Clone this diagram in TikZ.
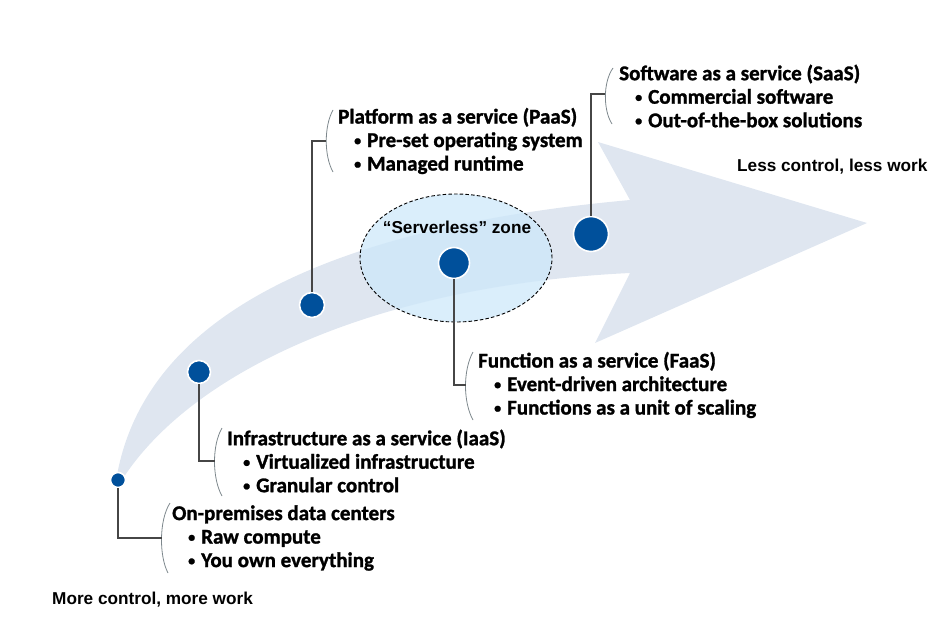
\documentclass[tikz,border=0pt]{standalone}
\usepackage{fontspec}
\usetikzlibrary{shapes.geometric}
\setmainfont{Carlito}[BoldFeatures={FakeBold=1.3}]
\newfontfamily\arialfont{Liberation Sans}
\definecolor{bandc}{RGB}{223,230,240}
\definecolor{zonec}{RGB}{205,232,250}
\definecolor{dotc}{RGB}{0,80,155}
\definecolor{connc}{RGB}{70,70,70}
\definecolor{brkc}{RGB}{125,135,140}
\newcommand{\bl}[1]{\hspace*{16pt}\makebox[13pt][l]{\raisebox{1.8pt}{\fontsize{14}{14}\selectfont•}}#1}
\tikzset{
  blk/.style={anchor=west, inner sep=0pt, align=left, font=\fontsize{21}{23.5}\selectfont\bfseries},
  lab/.style={inner sep=0pt, font=\arialfont\fontsize{17.2}{20}\selectfont\bfseries},
  dotn/.style={circle, fill=dotc, draw=white, line width=1.6pt, inner sep=0pt, minimum size=#1},
  conn/.style={draw=connc, line width=1.4pt},
  brk/.style={draw=brkc, line width=0.8pt},
}
\begin{document}
\begin{tikzpicture}[x=1pt,y=-1pt]
\useasboundingbox (0,0) rectangle (941,632);
% band arrow
\fill[bandc] (116,481) .. controls (140,330) and (300,230) .. (630,200) -- (598,142) -- (867,223) -- (595,343) -- (630,273) .. controls (380,285) and (190,370) .. (120,483) -- cycle;
% serverless zone
\node[ellipse, draw=black, dash pattern=on 3.5pt off 2.2pt, line width=0.9pt, fill=zonec, fill opacity=0.75, draw opacity=1, minimum width=192pt, minimum height=128pt, inner sep=0pt] (zone) at (456,258) {};
\node[lab] (zonelab) at (457,227) {“Serverless” zone};
% brackets
\draw[brk] (613,68) .. controls (603,82) and (603,110) .. (612,124);
\coordinate (bs) at (605,94);
\draw[brk] (333,110) .. controls (324,126) and (324,156) .. (333,172);
\coordinate (bp) at (326,141);
\draw[brk] (473,352) .. controls (463,370) and (463,402) .. (473,420);
\coordinate (bf) at (466,385);
\draw[brk] (222,428) .. controls (212,445) and (212,478) .. (222,496);
\coordinate (bi) at (215,461);
\draw[brk] (170,503) .. controls (159,520) and (159,556) .. (168,573);
\coordinate (bo) at (162,538);
% dots
\node[dotn=15pt] (d1) at (118,480) {};
\node[dotn=23pt] (d2) at (199,372) {};
\node[dotn=25pt] (d3) at (312,305) {};
\node[dotn=31pt] (d4) at (454,263) {};
\node[dotn=35pt] (d5) at (591,234) {};
% connectors
\draw[conn] (d1) |- (bo);
\draw[conn] (d2) |- (bi);
\draw[conn] (d3) |- (bp);
\draw[conn] (d4) |- (bf);
\draw[conn] (d5) |- (bs);
% texts
\node[blk] (saas) at (619,96) {Software as a service (SaaS)\\ \bl{Commercial software}\\ \bl{Out-of-the-box solutions}};
\node[blk] (paas) at (338,141) {Platform as a service (PaaS)\\ \bl{Pre-set operating system}\\ \bl{Managed runtime}};
\node[blk] (faas) at (478,385) {Function as a service (FaaS)\\ \bl{Event-driven architecture}\\ \bl{Functions as a unit of scaling}};
\node[blk] (iaas) at (227,461) {Infrastructure as a service (IaaS)\\ \bl{Virtualized infrastructure}\\ \bl{Granular control}};
\node[blk] (onprem) at (172,538) {On-premises data centers\\ \bl{Raw compute}\\ \bl{You own everything}};
\node[lab, anchor=west] (less) at (737,167) {Less control, less work};
\node[lab, anchor=west] (more) at (52,600) {More control, more work};
\end{tikzpicture}
\end{document}
